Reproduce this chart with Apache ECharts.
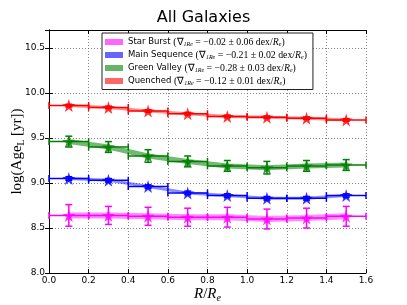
<!DOCTYPE html>
<html><head><meta charset="utf-8">
<script src="https://cdn.jsdelivr.net/npm/echarts@6/dist/echarts.min.js"></script>
<style>html,body{margin:0;padding:0;background:#fff}#c{width:407px;height:305px}</style>
</head><body><div id="c"></div>
<script>
// ---- data ----
var radii = [0.1, 0.3, 0.5, 0.7, 0.9, 1.1, 1.3, 1.5];
var binHalf = [0.1, 0.1, 0.1, 0.1, 0.1, 0.1, 0.1, 0.1];
var names = ['Star Burst', 'Main Sequence', 'Green Valley', 'Quenched'];
var gradVal = ['−0.02', '−0.21', '−0.28', '−0.12'];
var gradErr = ['0.06', '0.02', '0.03', '0.01'];
var starBurst = [8.64, 8.64, 8.63, 8.62, 8.62, 8.60, 8.61, 8.63];
var starBurstErr = [0.12, 0.10, 0.10, 0.10, 0.11, 0.11, 0.11, 0.11];
var mainSeq = [9.05, 9.03, 8.96, 8.89, 8.86, 8.83, 8.83, 8.86];
var mainSeqErr = [0.02, 0.02, 0.02, 0.02, 0.02, 0.02, 0.02, 0.02];
var greenValley = [9.46, 9.40, 9.30, 9.24, 9.19, 9.17, 9.19, 9.20];
var greenValleyErr = [0.06, 0.06, 0.07, 0.06, 0.06, 0.07, 0.06, 0.06];
var quenched = [9.86, 9.84, 9.80, 9.77, 9.74, 9.73, 9.72, 9.70];
var quenchedErr = [0.015, 0.015, 0.015, 0.015, 0.015, 0.015, 0.015, 0.015];
var xTicks = [0.0, 0.2, 0.4, 0.6, 0.8, 1.0, 1.2, 1.4, 1.6];
var yTicks = [8.0, 8.5, 9.0, 9.5, 10.0, 10.5];

var groups = [
  {vals: starBurst, errs: starBurstErr, color: '#ff00ff', band: 'rgba(255,0,255,0.45)', leg: 'rgba(255,0,255,0.6)', bw: 6},
  {vals: mainSeq, errs: mainSeqErr, color: '#0000ff', band: 'rgba(0,0,255,0.45)', leg: 'rgba(0,0,255,0.6)', bw: 3},
  {vals: greenValley, errs: greenValleyErr, color: '#008000', band: 'rgba(0,128,0,0.55)', leg: 'rgba(0,128,0,0.6)', bw: 5},
  {vals: quenched, errs: quenchedErr, color: '#ff0000', band: 'rgba(255,0,0,0.45)', leg: 'rgba(255,0,0,0.6)', bw: 3}
];

var starPath = 'path://M50,0 L61,35 L98,35 L68,57 L79,91 L50,70 L21,91 L32,57 L2,35 L39,35 Z';
var series = [];
groups.forEach(function (g, gi) {
  var pts = radii.map(function (r, i) { return [r, g.vals[i], g.errs[i], binHalf[i]]; });
  series.push({
    name: names[gi], type: 'line', data: pts.map(function (p) { return [p[0], p[1]]; }),
    symbol: 'none', lineStyle: {color: g.band, width: g.bw}, itemStyle: {color: g.leg},
    z: 2, silent: true, animation: false
  });
  series.push({
    type: 'custom', data: pts, z: 3, silent: true, animation: false,
    renderItem: function (params, api) {
      var x = api.value(0), y = api.value(1), e = api.value(2), h = api.value(3);
      var l = api.coord([x - h, y]), r = api.coord([x + h, y]);
      var t = api.coord([x, y + e]), b = api.coord([x, y - e]);
      var st = {stroke: g.color, lineWidth: 1.5, fill: null};
      var cap = 3.5;
      return {type: 'group', children: [
        {type: 'line', shape: {x1: l[0], y1: l[1], x2: r[0], y2: r[1]}, style: st},
        {type: 'line', shape: {x1: l[0], y1: l[1] - cap, x2: l[0], y2: l[1] + cap}, style: st},
        {type: 'line', shape: {x1: r[0], y1: r[1] - cap, x2: r[0], y2: r[1] + cap}, style: st},
        {type: 'line', shape: {x1: t[0], y1: t[1], x2: b[0], y2: b[1]}, style: st},
        {type: 'line', shape: {x1: t[0] - cap, y1: t[1], x2: t[0] + cap, y2: t[1]}, style: st},
        {type: 'line', shape: {x1: b[0] - cap, y1: b[1], x2: b[0] + cap, y2: b[1]}, style: st}
      ]};
    }
  });
  series.push({
    type: 'scatter', data: pts.map(function (p) { return [p[0], p[1]]; }),
    symbol: starPath, symbolSize: 13, itemStyle: {color: g.color}, z: 4, silent: true, animation: false
  });
});

var serif = 'Liberation Serif';
var chart = echarts.init(document.getElementById('c'), null, {renderer: 'canvas'});
chart.setOption({
  animation: false,
  title: {text: 'All Galaxies', left: 'center', top: 10, padding: 0,
    textStyle: {fontFamily: 'DejaVu Sans', fontSize: 16, fontWeight: 'normal', color: '#000'}},
  grid: {left: 49, right: 41, top: 30, bottom: 32, outerBoundsMode: 'none', containLabel: false},
  legend: {
    orient: 'vertical', left: 102, top: 33, padding: [4, 6, 3, 3],
    itemWidth: 18, itemHeight: 6, itemGap: 2.5,
    backgroundColor: '#fff', borderColor: '#222', borderWidth: 1,
    data: names.map(function (n, i) { return {name: n, icon: 'rect', itemStyle: {color: groups[i].leg}}; }),
    formatter: function (name) {
      var i = names.indexOf(name);
      return '{t|' + name + ' }{m|(∇}{s|1Re}{m| = ' + gradVal[i] + ' ± ' + gradErr[i] + ' dex/}{mi|R}{s|e}{m|)}';
    },
    textStyle: {
      rich: {
        t: {fontFamily: 'DejaVu Sans', fontSize: 8.5, color: '#000', lineHeight: 11},
        m: {fontFamily: serif, fontSize: 9.8, color: '#000', lineHeight: 11},
        mi: {fontFamily: serif, fontStyle: 'italic', fontSize: 9.8, color: '#000', lineHeight: 11},
        s: {fontFamily: serif, fontStyle: 'italic', fontSize: 6, color: '#000', lineHeight: 11, verticalAlign: 'bottom', padding: [4, 0, 0, 0]}
      }
    }
  },
  xAxis: [{
    type: 'value', min: 0, max: 1.6, interval: 0.2,
    name: '{i|R}{n|/}{i|R}{s|e}', nameLocation: 'middle', nameGap: 12, nameMoveOverlap: false,
    nameTextStyle: {rich: {
      i: {fontFamily: serif, fontStyle: 'italic', fontSize: 15, color: '#000'},
      n: {fontFamily: serif, fontSize: 15, color: '#000'},
      s: {fontFamily: serif, fontStyle: 'italic', fontSize: 10, color: '#000', verticalAlign: 'bottom', padding: [8, 0, 0, 0]}
    }},
    axisLine: {lineStyle: {color: '#000', width: 1}},
    axisTick: {inside: true, length: 4, lineStyle: {color: '#000'}},
    axisLabel: {fontFamily: 'DejaVu Sans', fontSize: 9, color: '#000', margin: 3,
      formatter: function (v) { return v.toFixed(1); }},
    splitLine: {show: true, lineStyle: {color: '#666', type: [1, 2], width: 0.8}}
  }, {
    type: 'value', min: 0, max: 1.6, interval: 0.2, position: 'top',
    axisLine: {lineStyle: {color: '#000', width: 1}},
    axisTick: {inside: true, length: 4, lineStyle: {color: '#000'}},
    axisLabel: {show: false}, splitLine: {show: false}
  }],
  yAxis: [{
    type: 'value', min: 8.0, max: 10.7, interval: 0.5,
    name: '{n|log(Age}{s|L}{n| [yr])}', nameLocation: 'middle', nameGap: 23, nameRotate: 90, nameMoveOverlap: false,
    nameTextStyle: {rich: {
      n: {fontFamily: serif, fontSize: 15, color: '#000'},
      s: {fontFamily: serif, fontSize: 9.5, color: '#000', verticalAlign: 'bottom', padding: [7, 0, 0, 0]}
    }},
    axisLine: {show: true, lineStyle: {color: '#000', width: 1}},
    axisTick: {show: true, inside: true, length: 4, lineStyle: {color: '#000'}},
    axisLabel: {fontFamily: 'DejaVu Sans', fontSize: 9, color: '#000', margin: 4, showMaxLabel: false,
      formatter: function (v) { return v.toFixed(1); }},
    splitLine: {show: true, lineStyle: {color: '#666', type: [1, 2], width: 0.8}}
  }, {
    type: 'value', min: 8.0, max: 10.7, interval: 0.5, position: 'right',
    axisLine: {show: true, lineStyle: {color: '#000', width: 1}},
    axisTick: {show: true, inside: true, length: 4, lineStyle: {color: '#000'}},
    axisLabel: {show: false}, splitLine: {show: false}
  }],
  series: series
});
</script></body></html>
